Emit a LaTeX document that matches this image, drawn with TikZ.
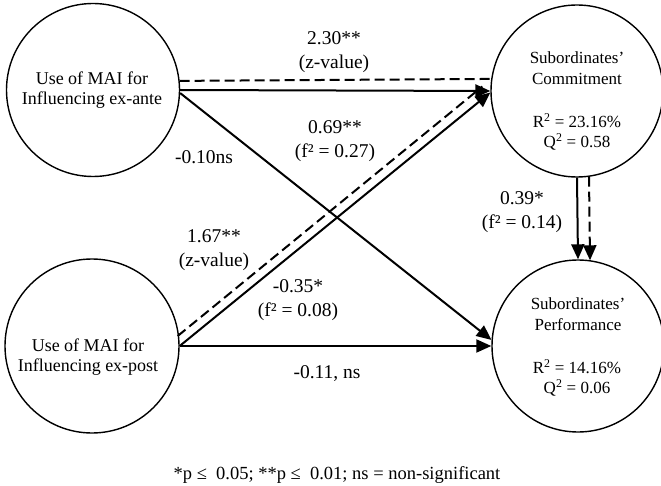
\documentclass[tikz,border=0pt]{standalone}
\usepackage{fontspec}
\setmainfont{Liberation Serif}
\usetikzlibrary{arrows.meta,calc}
\begin{document}
\begin{tikzpicture}[x=1pt,y=-1pt,
  construct/.style={draw,circle,line width=1.4pt,inner sep=0pt},
  ctext/.style={align=center,inner sep=0pt,font=\fontsize{18}{20}\selectfont},
  rtext/.style={align=center,inner sep=0pt,font=\fontsize{17}{20.5}\selectfont},
  lbl/.style={align=center,inner sep=0pt,font=\fontsize{19.5}{23.5}\selectfont},
  path/.style={line width=2pt,-{Triangle[length=15pt,width=13pt]}},
  dpath/.style={line width=2pt,dash pattern=on 10pt off 5pt},
]
\useasboundingbox (0,0) rectangle (661,486);
% constructs
\node[construct,minimum size=173pt] (A) at (93,90) {};
\node[construct,minimum size=174pt] (B) at (92,346) {};
\node[construct,minimum size=172pt] (C) at (577,91) {};
\node[construct,minimum size=172pt] (D) at (578,346) {};
% construct texts
\node[ctext] (At) at (92,90) {Use of MAI for\\Influencing ex-ante};
\node[ctext] (Bt) at (88,357) {Use of MAI for\\Influencing ex-post};
\node[rtext] (Ct1) at (577,68) {Subordinates’\\Commitment};
\node[rtext] (Ct2) at (577,132) {R\textsuperscript{2} = 23.16\%\\Q\textsuperscript{2} = 0.58};
\node[rtext] (Dt1) at (578,314) {Subordinates’\\ Performance};
\node[rtext] (Dt2) at (577,378) {R\textsuperscript{2} = 14.16\%\\Q\textsuperscript{2} = 0.06};
% connectors
\draw[dpath] (A.6.6) -- (C.172.7);
\draw[path] (A.east) -- (C.west);
\draw[path] (A.-2) -- (D.176);
\draw[path] (B.east) -- (C.181);
\draw[dpath] ($(B.east)+(-2,-10)$) -- ($(C.181)+(-8,-6)$);
\draw[path] (B.east) -- (D.west);
\draw[path] (C.south) -- (D.north);
\draw[path,dash pattern=on 10pt off 5pt] ($(C.south)+(12,-1)$) -- ($(D.north)+(12,1)$);
% labels
\node[lbl] (l1) at (334,52) {2.30**\\(z-value)};
\node[lbl] (l2) at (335,141) {0.69**\\(f² = 0.27)};
\node[lbl] (l3) at (204,157) {-0.10ns};
\node[lbl] (l4) at (214,250) {1.67**\\(z-value)};
\node[lbl] (l5) at (298,300) {-0.35*\\(f² = 0.08)};
\node[lbl] (l6) at (327,374) {-0.11, ns};
\node[lbl] (l7) at (522,212) {0.39*\\(f² = 0.14)};
\node[lbl,font=\fontsize{18.5}{22}\selectfont] (fn) at (337,475) {*p ≤ \ 0.05; **p ≤ \ 0.01; ns = non-significant};
\end{tikzpicture}
\end{document}
